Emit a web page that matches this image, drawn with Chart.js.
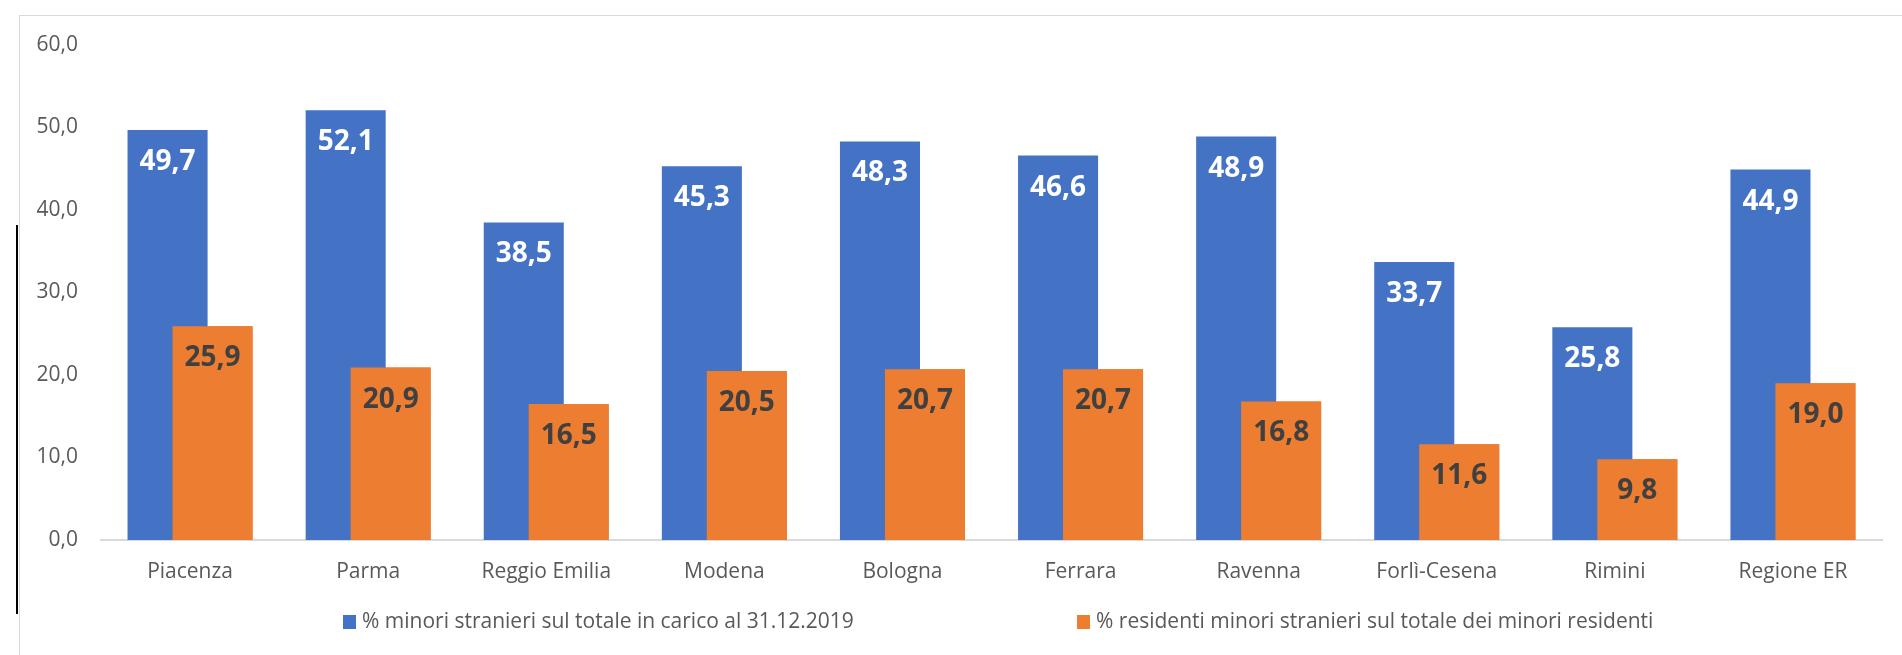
<!DOCTYPE html>
<html>
<head>
<meta charset="utf-8">
<script src="https://cdn.jsdelivr.net/npm/chart.js@4.4.1/dist/chart.umd.min.js"></script>
<style>
  html, body { margin: 0; padding: 0; background: #fff; }
  body { width: 1902px; height: 655px; position: relative; overflow: hidden; font-family: "Open Sans", sans-serif; }
  #wrap { position: absolute; left: 0; top: 0; width: 1902px; height: 655px; }
  #frame { position: absolute; left: 19px; top: 15px; width: 2000px; height: 1000px; border-left: 1.5px solid #d9d9d9; border-top: 1.5px solid #d9d9d9; }
  #blackline { position: absolute; left: 16px; top: 225px; width: 2px; height: 389px; background: #000; }
  .leg { position: absolute; top: 606px; font-size: 21px; color: #595959; white-space: nowrap; line-height: 28px; }
  .leg i { display: inline-block; width: 13px; height: 14px; vertical-align: -1px; margin-right: 6px; }
</style>
</head>
<body>
<div id="frame"></div>
<div id="blackline"></div>
<div id="wrap"><canvas id="c" width="1902" height="655"></canvas></div>
<div id="legend"></div>
<script>
const categories = ["Piacenza", "Parma", "Reggio Emilia", "Modena", "Bologna", "Ferrara", "Ravenna", "Forlì-Cesena", "Rimini", "Regione ER"];
const seriesNames = ["% minori stranieri sul totale in carico al 31.12.2019", "% residenti minori stranieri sul totale dei minori residenti"];
const minoriInCarico = [49.7, 52.1, 38.5, 45.3, 48.3, 46.6, 48.9, 33.7, 25.8, 44.9];
const residentiMinori = [25.9, 20.9, 16.5, 20.5, 20.7, 20.7, 16.8, 11.6, 9.8, 19.0];
const yTicks = [0, 10, 20, 30, 40, 50, 60];

const colors = ["#4472C4", "#ED7D31"];
const labelColors = ["#ffffff", "#404040"];

const fmt = v => v.toFixed(1).replace(".", ",");

const barLabels = {
  id: "barLabels",
  afterDatasetsDraw(chart) {
    const ctx = chart.ctx;
    // redraw the second series so it overlaps the first, as in the reference
    chart.getDatasetMeta(1).controller.draw();
    ctx.save();
    ctx.font = "bold 28px 'Open Sans'";
    ctx.textAlign = "center";
    ctx.textBaseline = "middle";
    chart.data.datasets.forEach((ds, di) => {
      const meta = chart.getDatasetMeta(di);
      ctx.fillStyle = labelColors[di];
      meta.data.forEach((bar, i) => {
        ctx.fillText(fmt(ds.data[i]), bar.x, bar.y + 32);
      });
    });
    ctx.restore();
  }
};

new Chart(document.getElementById("c"), {
  type: "bar",
  data: {
    labels: categories,
    datasets: [
      { label: seriesNames[0], data: minoriInCarico, backgroundColor: colors[0], categoryPercentage: 0.505, barPercentage: 1.78 },
      { label: seriesNames[1], data: residentiMinori, backgroundColor: colors[1], categoryPercentage: 0.505, barPercentage: 1.78 }
    ]
  },
  options: {
    responsive: false,
    animation: false,
    devicePixelRatio: 1,
    layout: { padding: { top: 45, right: 20, left: 0, bottom: 0 } },
    plugins: { legend: { display: false }, tooltip: { enabled: false } },
    scales: {
      x: {
        grid: { display: false, drawTicks: false },
        border: { display: true, color: "#d9d9d9", width: 2 },
        ticks: { color: "#595959", font: { family: "Open Sans", size: 21 }, padding: 19, maxRotation: 0, autoSkip: false },
        afterFit(s) { s.height = 115; }
      },
      y: {
        min: 0, max: 60,
        grid: { display: false, drawTicks: false },
        border: { display: false },
        afterBuildTicks(s) { s.ticks = yTicks.map(v => ({ value: v })); },
        ticks: { color: "#595959", font: { family: "Open Sans", size: 21 }, padding: 23, callback: v => fmt(v) },
        afterFit(s) { s.width = 101; }
      }
    }
  },
  plugins: [barLabels]
});

const legend = document.getElementById("legend");
const legX = [343, 1077];
seriesNames.forEach((name, i) => {
  const d = document.createElement("div");
  d.className = "leg";
  d.style.left = legX[i] + "px";
  const sw = document.createElement("i");
  sw.style.background = colors[i];
  d.appendChild(sw);
  d.appendChild(document.createTextNode(name));
  legend.appendChild(d);
});
</script>
</body>
</html>
